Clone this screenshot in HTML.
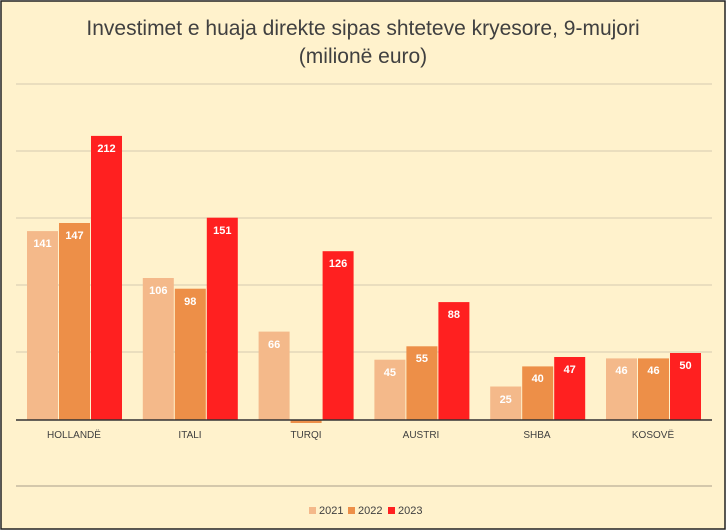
<!DOCTYPE html>
<html><head><meta charset="utf-8"><style>
body{margin:0;background:#fff;}
svg{display:block;font-family:"Liberation Sans",sans-serif;}
</style></head><body>
<svg width="727" height="532" viewBox="0 0 727 532">
<rect x="1" y="1" width="724" height="528" fill="#FFF2CC" stroke="#222" stroke-width="1.5"/>
<text x="363" y="35" text-anchor="middle" font-size="21" fill="#404040">Investimet e huaja direkte sipas shteteve kryesore, 9-mujori</text>
<text x="363" y="63" text-anchor="middle" font-size="21" fill="#404040">(milionë euro)</text>
<g stroke="#D6CBB0" stroke-width="1">
<line x1="16" x2="712" y1="84" y2="84"/>
<line x1="16" x2="712" y1="151" y2="151"/>
<line x1="16" x2="712" y1="218" y2="218"/>
<line x1="16" x2="712" y1="285" y2="285"/>
<line x1="16" x2="712" y1="352" y2="352"/>
<line x1="16" x2="712" y1="486" y2="486" stroke="#A89F8A"/>
</g>
<g>
<rect x="27" y="231.1" width="31" height="188.9" fill="#F4B98A"/>
<rect x="59" y="223" width="31" height="197" fill="#ED8F48"/>
<rect x="91" y="135.9" width="31" height="284.1" fill="#FF2020"/>
<rect x="142.8" y="278" width="31" height="142" fill="#F4B98A"/>
<rect x="174.8" y="288.7" width="31" height="131.3" fill="#ED8F48"/>
<rect x="206.8" y="217.7" width="31" height="202.3" fill="#FF2020"/>
<rect x="258.6" y="331.6" width="31" height="88.4" fill="#F4B98A"/>
<rect x="290.6" y="420" width="31" height="3" fill="#ED8F48"/>
<rect x="322.6" y="251.2" width="31" height="168.8" fill="#FF2020"/>
<rect x="374.4" y="359.7" width="31" height="60.3" fill="#F4B98A"/>
<rect x="406.4" y="346.3" width="31" height="73.7" fill="#ED8F48"/>
<rect x="438.4" y="302.1" width="31" height="117.9" fill="#FF2020"/>
<rect x="490.2" y="386.5" width="31" height="33.5" fill="#F4B98A"/>
<rect x="522.2" y="366.4" width="31" height="53.6" fill="#ED8F48"/>
<rect x="554.2" y="357" width="31" height="63" fill="#FF2020"/>
<rect x="606" y="358.4" width="31" height="61.6" fill="#F4B98A"/>
<rect x="638" y="358.4" width="31" height="61.6" fill="#ED8F48"/>
<rect x="670" y="353" width="31" height="67" fill="#FF2020"/>
</g>
<g font-size="11" font-weight="bold" fill="#fff" text-anchor="middle">
<text x="42.5" y="247">141</text><text x="74.5" y="239">147</text><text x="106.5" y="152">212</text>
<text x="158.3" y="294">106</text><text x="190.3" y="305">98</text><text x="222.3" y="234">151</text>
<text x="274.1" y="348">66</text><text x="338.1" y="267">126</text>
<text x="389.9" y="376">45</text><text x="421.9" y="362">55</text><text x="453.9" y="318">88</text>
<text x="505.7" y="403">25</text><text x="537.7" y="382">40</text><text x="569.7" y="373">47</text>
<text x="621.5" y="374">46</text><text x="653.5" y="374">46</text><text x="685.5" y="369">50</text>
</g>
<line x1="16" x2="712" y1="420" y2="420" stroke="#333" stroke-width="1.5"/>
<g font-size="10" fill="#404040" text-anchor="middle">
<text x="74" y="438">HOLLANDË</text><text x="190" y="438">ITALI</text><text x="306" y="438">TURQI</text>
<text x="421" y="438">AUSTRI</text><text x="537" y="438">SHBA</text><text x="653" y="438">KOSOVË</text>
</g>
<g font-size="11" fill="#404040">
<rect x="309" y="507" width="7" height="7" fill="#F4B98A"/><text x="319" y="514">2021</text>
<rect x="348" y="507" width="7" height="7" fill="#ED8F48"/><text x="358" y="514">2022</text>
<rect x="388" y="507" width="7" height="7" fill="#FF2020"/><text x="398" y="514">2023</text>
</g>
</svg>
</body></html>
